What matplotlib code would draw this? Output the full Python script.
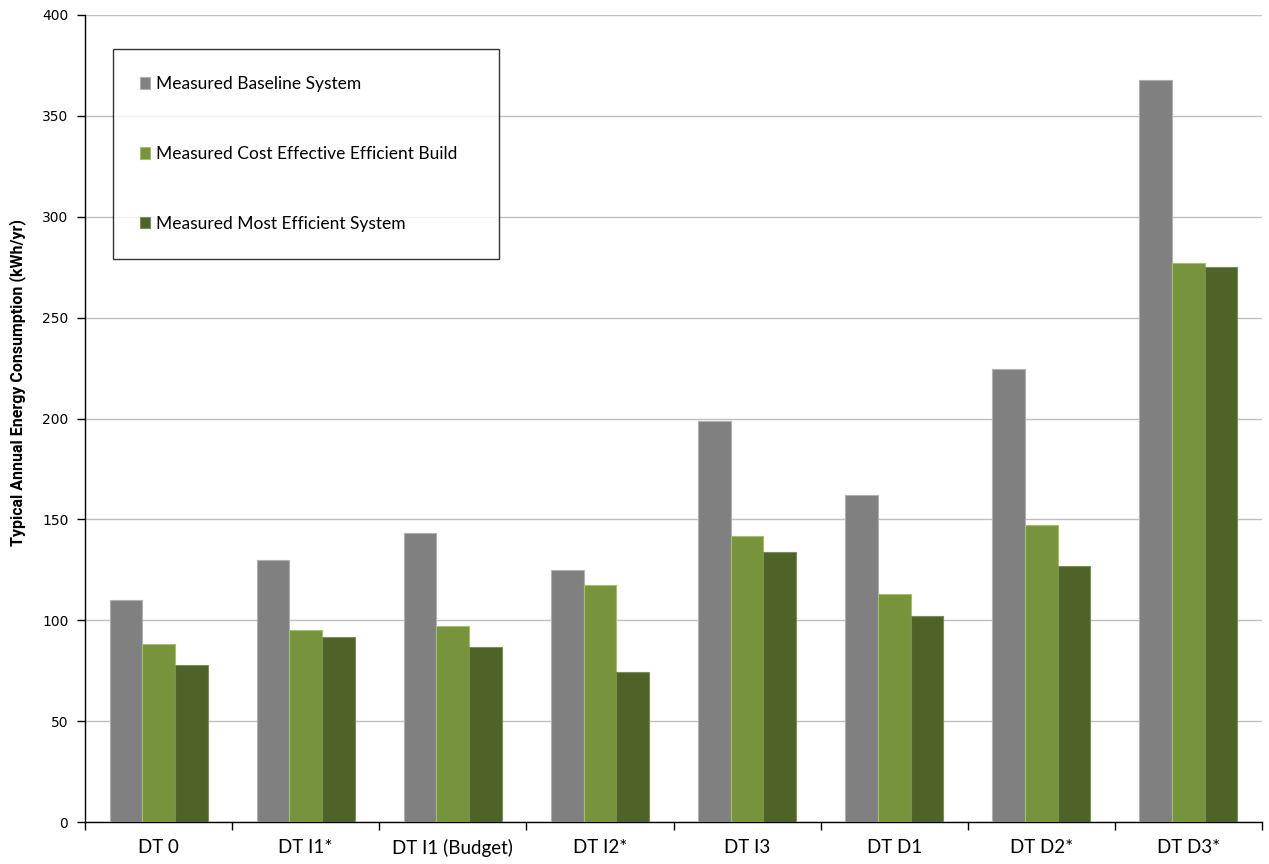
import matplotlib
matplotlib.use("Agg")
import matplotlib.pyplot as plt
import numpy as np

categories = ["DT 0", "DT I1*", "DT I1 (Budget)", "DT I2*", "DT I3", "DT D1", "DT D2*", "DT D3*"]
baseline = [110, 130, 143, 125, 199, 162, 224.5, 368]
cost_effective = [88, 95, 97.3, 117.3, 141.6, 113, 147.3, 277.2]
most_efficient = [78, 91.5, 86.6, 74.5, 133.7, 102.3, 126.7, 275.2]
series_names = ["Measured Baseline System", "Measured Cost Effective Efficient Build", "Measured Most Efficient System"]
colors = ["#808080", "#77933C", "#4F6228"]
edgecolors = ["#B0B0B0", "#A4BE6E", "#7A8F55"]

fig = plt.figure(figsize=(12.69, 8.64), dpi=100)
ax = fig.add_axes([85/1269, 42/864, 1177/1269, 807/864])

x = np.arange(len(categories))
w = 0.222
for i, (vals, name) in enumerate(zip([baseline, cost_effective, most_efficient], series_names)):
    ax.bar(x + (i - 1) * w, vals, width=w, color=colors[i], edgecolor=edgecolors[i],
           linewidth=0.8, label=name, zorder=3)

ax.set_xlim(-0.5, len(categories) - 0.5)
ax.set_ylim(0, 400)
ax.set_yticks(np.arange(0, 401, 50))
ax.yaxis.grid(True, color="#C0C0C0", linewidth=1.0, zorder=0)
ax.set_axisbelow(True)
for s in ["top", "right"]:
    ax.spines[s].set_visible(False)
ax.spines["left"].set_color("black")
ax.spines["bottom"].set_color("black")
ax.spines["left"].set_linewidth(1.0)
ax.spines["bottom"].set_linewidth(1.0)

ax.set_xticks(np.arange(-0.5, len(categories), 1.0))
ax.set_xticklabels([])
ax.set_xticks(x, minor=True)
ax.set_xticklabels(categories, minor=True, fontsize=13.5, family="Lato")
ax.tick_params(axis="x", which="major", length=6, width=1, direction="out")
ax.tick_params(axis="x", which="minor", length=0, pad=12)
ax.tick_params(axis="y", length=6, width=1, direction="out", labelsize=10, pad=6)
for lbl in ax.get_yticklabels():
    lbl.set_family("DejaVu Sans")

ax.set_ylabel("Typical Annual Energy Consumption (kWh/yr)", fontsize=11.5, fontweight="bold",
              family="Roboto")
ax.yaxis.set_label_coords(-0.050, 0.545)

leg = ax.legend(loc="upper left", bbox_to_anchor=(0.0235, 0.6998, 0.3285, 0.2577),
                mode="expand", borderaxespad=0, frameon=True, fancybox=False,
                prop={"family": "Lato", "size": 12.5}, labelspacing=3.1, borderpad=1.55,
                handlelength=0.62, handleheight=0.62, handletextpad=0.3)
leg.get_frame().set_edgecolor("black")
leg.get_frame().set_linewidth(1.0)

fig.savefig("out.png", dpi=100)
